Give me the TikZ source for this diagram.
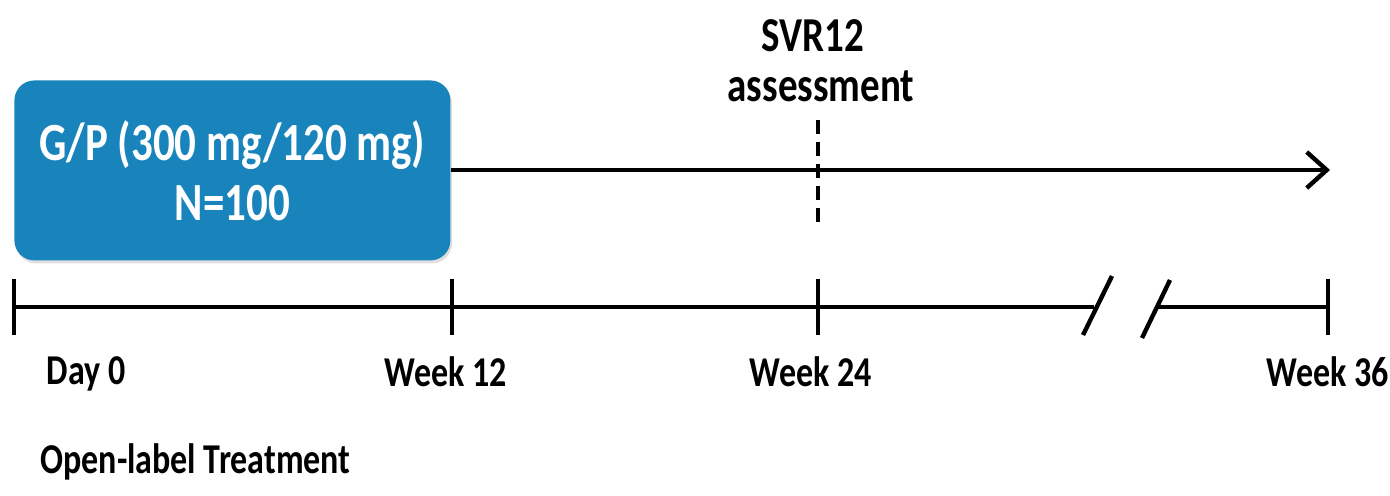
\documentclass[tikz,border=0pt]{standalone}
\usepackage{fontspec}
\setmainfont{Carlito}
\usetikzlibrary{arrows.meta,shadows}
\definecolor{armblue}{RGB}{24,132,187}
% tall, narrow lettering
\newcommand{\tallt}[1]{\scalebox{1}[1.25]{#1}}
\tikzset{
  axis/.style={line width=2.2pt, line cap=butt},
  tickmark/.style={line width=2.2pt},
  lbl/.style={font=\bfseries\fontsize{17}{20}\selectfont, inner sep=0pt},
  armbox/.style={fill=armblue, rounded corners=10pt, draw=none,
    drop shadow={opacity=0.25, shadow xshift=0.8pt, shadow yshift=-1.5pt}},
}
\begin{document}
\begin{tikzpicture}[x=0.5pt,y=-0.5pt]
\useasboundingbox (0,0) rectangle (1390,495);

% treatment arm
\node[armbox, minimum width=218pt, minimum height=90pt, anchor=north west,
      text=white, align=center, font=\bfseries\fontsize{21.5}{30}\selectfont]
  (arm) at (14,80) {\tallt{G/P (300 mg/120 mg)}\\\tallt{N=100}};

% follow-up arrow
\coordinate (armend) at (1330,170);
\draw[line width=2.2pt, -{Straight Barb[length=10pt,width=18pt,line width=2.2pt]}]
  (arm.east |- armend) -- (armend);

% SVR12 assessment
\node[lbl, font=\bfseries\fontsize{19.5}{22}\selectfont] (svr) at (813,36) {\tallt{SVR12}};
\node[lbl, font=\bfseries\fontsize{19.5}{22}\selectfont] (assess) at (821,86) {\tallt{assessment}};
\coordinate (dtop) at (818,120);
\coordinate (dbot) at (818,226);
\draw[line width=2.2pt, dash pattern=on 7pt off 4pt] (dtop) -- (dbot);

% timeline
\coordinate (t0) at (14,307);
\coordinate (t12) at (452,307);
\coordinate (t24) at (818,307);
\coordinate (t36) at (1328,307);
\coordinate (brkA) at (1094,307);
\coordinate (brkB) at (1158,307);
\draw[axis] (t0) -- (brkA);
\draw[axis] (brkB) -- (t36);
\foreach \t in {t0,t12,t24,t36}
  \draw[tickmark] ([yshift=-14pt]\t) -- ([yshift=14pt]\t);
% axis break marks
\draw[tickmark] (1083,335) -- (1112,276);
\draw[tickmark] (1142,338) -- (1170,280);

% time labels
\node[lbl] (d0) at (86,374) {\tallt{Day 0}};
\node[lbl] (w12) at (446,372) {\tallt{Week 12}};
\node[lbl] (w24) at (811,372) {\tallt{Week 24}};
\node[lbl] (w36) at (1328,372) {\tallt{Week 36}};

\node[lbl, anchor=west] (olt) at (40,462) {\tallt{Open-label Treatment}};
\end{tikzpicture}
\end{document}
